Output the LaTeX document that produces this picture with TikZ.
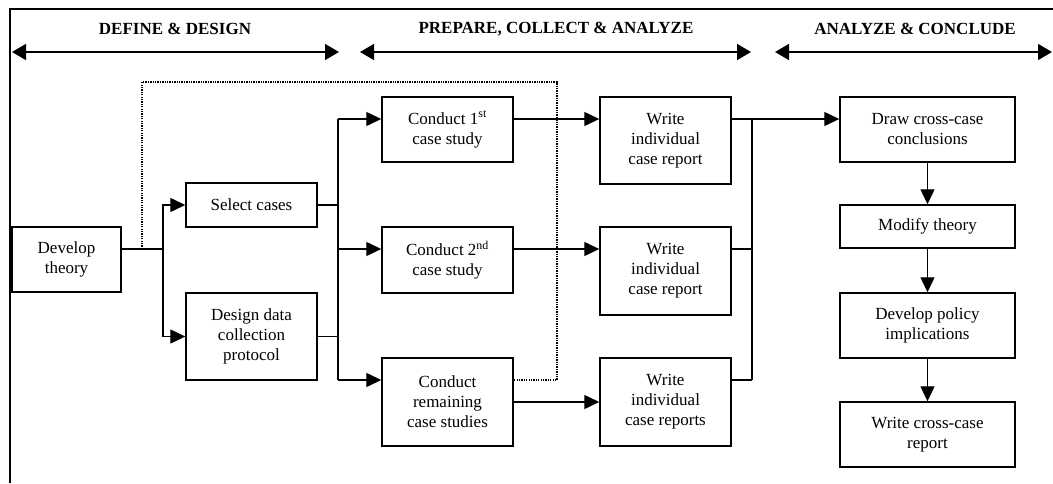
\documentclass[tikz,border=0pt]{standalone}
\usepackage{fontspec}
\setmainfont{Liberation Serif}
\usetikzlibrary{arrows.meta}
\begin{document}
\begin{tikzpicture}[x=1pt,y=-1pt,
  box/.style={draw,line width=1.4pt,inner sep=0pt,align=center,
    font=\fontsize{17}{20}\selectfont},
  head/.style={font=\fontsize{17}{20}\selectfont\bfseries,inner sep=0pt},
  conn/.style={line width=1.3pt},
  arr/.style={conn,-{Triangle[length=15pt,width=14pt]}},
  span/.style={line width=1.6pt,{Triangle[length=14pt,width=16pt]}-{Triangle[length=14pt,width=16pt]}},
  dots/.style={line width=1.3pt,dash pattern=on 1.3pt off 1.1pt}]
\useasboundingbox (0,0) rectangle (1053,483);

% outer frame (top and left edges)
\draw[line width=1.5pt] (10,483) -- (10,9) -- (1053,9);

% phase headings with span arrows
\node[head] (hd1) at (175,29) {DEFINE \& DESIGN};
\node[head] (hd2) at (556,29) {PREPARE, COLLECT \& ANALYZE};
\node[head] (hd3) at (915,29) {ANALYZE \& CONCLUDE};
\coordinate (s1a) at (12,52);  \coordinate (s1b) at (339,52);
\coordinate (s2a) at (360,52); \coordinate (s2b) at (751,52);
\coordinate (s3a) at (775,52); \coordinate (s3b) at (1052,52);
\draw[span] (s1a) -- (s1b);
\draw[span] (s2a) -- (s2b);
\draw[span] (s3a) -- (s3b);

% process boxes
\node[box,minimum width=109,minimum height=65] (dev) at (66.5,259.5) {Develop\\theory};
\node[box,minimum width=131,minimum height=44] (sel) at (251.5,205) {Select cases};
\node[box,minimum width=131,minimum height=87] (des) at (251.5,336.5) {Design data\\collection\\protocol};
\node[box,minimum width=131,minimum height=65] (c1) at (447.5,129.5) {Conduct 1\textsuperscript{st}\\case study};
\node[box,minimum width=131,minimum height=66] (c2) at (447.5,260) {Conduct 2\textsuperscript{nd}\\case study};
\node[box,minimum width=131,minimum height=88] (c3) at (447.5,402) {Conduct\\remaining\\case studies};
\node[box,minimum width=131,minimum height=87] (w1) at (665.5,140.5) {Write\\individual\\case report};
\node[box,minimum width=131,minimum height=88] (w2) at (665.5,271) {Write\\individual\\case report};
\node[box,minimum width=131,minimum height=88] (w3) at (665.5,402) {Write\\individual\\case reports};
\node[box,minimum width=175,minimum height=65] (dc) at (927.5,129.5) {Draw cross-case\\conclusions};
\node[box,minimum width=175,minimum height=43] (mt) at (927.5,226.5) {Modify theory};
\node[box,minimum width=175,minimum height=65] (dp) at (927.5,325.5) {Develop policy\\implications};
\node[box,minimum width=175,minimum height=65] (wr) at (927.5,434.5) {Write cross-case\\report};

% junction points
\coordinate (sp) at (163,249);
\coordinate (b1t) at (338,119);
\coordinate (b1m) at (338,249);
\coordinate (b1b) at (338,380);
\coordinate (b2t) at (752,119);
\coordinate (b2m) at (752,249);
\coordinate (b2b) at (752,380);
\coordinate (d0) at (142,249);
\coordinate (d1) at (557,82);

% theory splits into case selection and protocol design
\draw[conn] (dev.east |- sp) -- (sp);
\draw[arr] (sp) |- (sel.west);
\draw[arr] (sp) |- (des.west);

% feed into the case studies
\draw[conn] (sel.east) -- (sel.east -| b1t);
\draw[conn] (des.east) -- (des.east -| b1t);
\draw[conn] (b1t) -- (b1b);
\draw[arr] (b1t) -- (c1.west |- b1t);
\draw[arr] (b1m) -- (c2.west |- b1m);
\draw[arr] (b1b) -- (c3.west |- b1b);

% case studies to individual reports
\draw[arr] (c1.east |- b1t) -- (w1.west |- b1t);
\draw[arr] (c2.east |- b1m) -- (w2.west |- b1m);
\draw[arr] (c3.east) -- (w3.west);

% reports gather into cross-case conclusions
\draw[conn] (w2.east |- b2m) -- (b2m);
\draw[conn] (w3.east |- b2b) -- (b2b);
\draw[conn] (b2t) -- (b2b);
\draw[arr] (w1.east |- b2t) -- (dc.west |- b2t);

% conclusion chain
\draw[arr] (dc.south) -- (mt.north);
\draw[arr] (mt.south) -- (dp.north);
\draw[arr] (dp.south) -- (wr.north);

% dotted feedback loop
\draw[dots] (d0) |- (d1) |- (c3.east |- b1b);
\end{tikzpicture}
\end{document}
